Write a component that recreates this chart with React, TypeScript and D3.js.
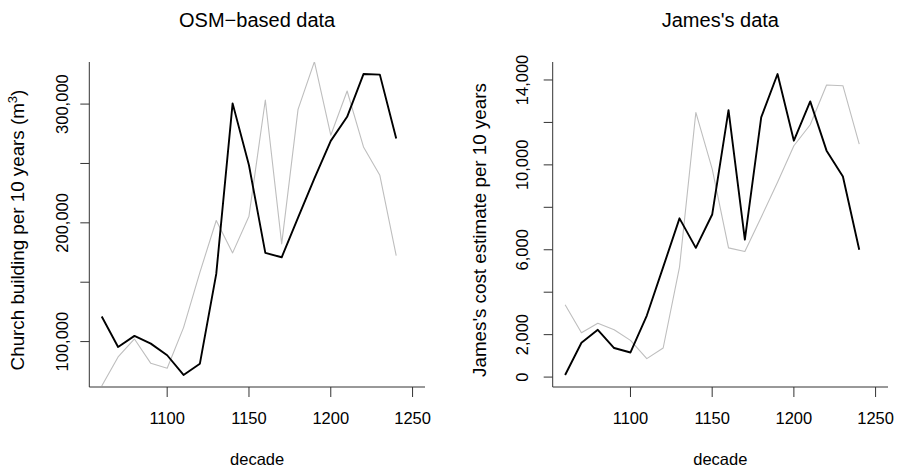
import React from "react";
import * as d3 from "d3";

// Decades (start year of each 10-year bin)
const decades = [1060, 1070, 1080, 1090, 1100, 1110, 1120, 1130, 1140, 1150, 1160, 1170, 1180, 1190, 1200, 1210, 1220, 1230, 1240];

// OSM-based church building volume per decade (m³)
const osmMain = [121100, 95500, 104800, 98300, 88500, 71900, 81400, 157000, 300600, 248500, 174700, 171000, 204300, 237500, 269000, 289300, 325300, 324800, 271000];
const osmCompare = [62600, 87100, 102200, 81700, 77500, 111800, 158300, 202000, 174700, 205600, 303400, 182300, 295500, 335700, 273800, 311000, 263900, 240000, 172400];

// James's cost estimates per decade
const jamesMain = [100, 1620, 2230, 1370, 1160, 2900, 5180, 7480, 6090, 7660, 12580, 6480, 12240, 14280, 11140, 12990, 10670, 9450, 6000];
const jamesCompare = [3410, 2090, 2540, 2230, 1730, 870, 1370, 5180, 12470, 9810, 6090, 5920, 7530, 9180, 10900, 11890, 13760, 13730, 10980];

const xTicks = [1100, 1150, 1200, 1250];
const osmTicks = [100000, 150000, 200000, 250000, 300000];
const osmLabelled = [100000, 200000, 300000];
const jamesTicks = [0, 2000, 4000, 6000, 8000, 10000, 12000, 14000];
const jamesLabelled = [0, 2000, 6000, 10000, 14000];

const FONT = "'Liberation Sans', Arial, Helvetica, sans-serif";
const W = 897;
const H = 470;
const TOP = 62;
const BOTTOM = 387;
const fmt = d3.format(",");

// R-style 4% padding around a range
function pad(lo: number, hi: number): [number, number] {
  const d = (hi - lo) * 0.04;
  return [lo - d, hi + d];
}

type PanelProps = {
  id: string;
  left: number;
  right: number;
  title: string;
  ylab: React.ReactNode;
  main: number[];
  compare: number[];
  ticks: number[];
  labelled: number[];
  tickLabelX: number;
  ylabX: number;
};

function Panel(p: PanelProps) {
  const x = d3.scaleLinear().domain(pad(1060, 1250)).range([p.left, p.right]);
  const [lo, hi] = d3.extent(p.main) as [number, number];
  const y = d3.scaleLinear().domain(pad(lo, hi)).range([BOTTOM, TOP]);
  const line = d3
    .line<number>()
    .x((_, i) => x(decades[i]))
    .y((v) => y(v));
  const cx = (p.left + p.right) / 2;
  return (
    <g>
      <defs>
        <clipPath id={p.id}>
          <rect x={p.left} y={TOP} width={p.right - p.left} height={BOTTOM - TOP} />
        </clipPath>
      </defs>
      <g clipPath={`url(#${p.id})`} fill="none" strokeLinejoin="round">
        <path d={line(p.compare) || ""} stroke="#bebebe" strokeWidth={1.1} />
        <path d={line(p.main) || ""} stroke="#000" strokeWidth={1.9} />
      </g>
      {/* L-shaped frame */}
      <path
        d={`M${p.left},${TOP}V${BOTTOM}H${p.right}`}
        fill="none"
        stroke="#333"
        strokeWidth={1}
      />
      {xTicks.map((t) => (
        <g key={t}>
          <line x1={x(t)} x2={x(t)} y1={BOTTOM} y2={BOTTOM + 10} stroke="#333" />
          <text x={x(t)} y={424} textAnchor="middle" fontSize={16.5} fontFamily={FONT}>
            {t}
          </text>
        </g>
      ))}
      {p.ticks.map((t) => (
        <line key={t} x1={p.left - 9} x2={p.left} y1={y(t)} y2={y(t)} stroke="#333" />
      ))}
      {p.labelled.map((t) => (
        <text
          key={t}
          transform={`translate(${p.tickLabelX},${y(t)}) rotate(-90)`}
          textAnchor="middle"
          fontSize={16.5}
          fontFamily={FONT}
        >
          {fmt(t)}
        </text>
      ))}
      <text x={cx} y={465} textAnchor="middle" fontSize={16.5} fontFamily={FONT}>
        decade
      </text>
      <text
        transform={`translate(${p.ylabX},230) rotate(-90)`}
        textAnchor="middle"
        fontSize={18.8}
        fontFamily={FONT}
      >
        {p.ylab}
      </text>
      <text x={cx} y={27} textAnchor="middle" fontSize={20} fontFamily={FONT}>
        {p.title}
      </text>
    </g>
  );
}

export default function App() {
  return (
    <svg
      width={W}
      height={H}
      viewBox={`0 0 ${W} ${H}`}
      style={{ position: "fixed", left: 0, top: 0, background: "#fff" }}
    >
      <rect width={W} height={H} fill="#fff" />
      <Panel
        id="clip-osm"
        left={89.3}
        right={425}
        title="OSM−based data"
        ylab={
          <>
            Church building per 10 years (m
            <tspan dy={-7} fontSize={13}>3</tspan>
            <tspan dy={7}>)</tspan>
          </>
        }
        main={osmMain}
        compare={osmCompare}
        ticks={osmTicks}
        labelled={osmLabelled}
        tickLabelX={68}
        ylabX={24}
      />
      <Panel
        id="clip-james"
        left={552.7}
        right={888}
        title="James's data"
        ylab="James's cost estimate per 10 years"
        main={jamesMain}
        compare={jamesCompare}
        ticks={jamesTicks}
        labelled={jamesLabelled}
        tickLabelX={528}
        ylabX={486}
      />
    </svg>
  );
}
